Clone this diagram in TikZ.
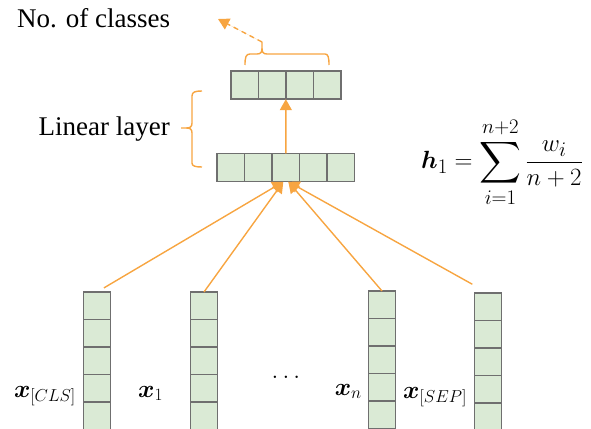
\documentclass[tikz,border=0pt]{standalone}
\usepackage{amsmath,amssymb,bm}
\usepackage{fontspec}
\setmainfont{Liberation Serif}
\usepackage{tikz}
\usetikzlibrary{arrows.meta, positioning, calc, fit}
\definecolor{tokorange}{HTML}{F7A541}
\definecolor{cellgreen}{HTML}{DAEAD5}
\definecolor{cellgray}{HTML}{6F6F6F}

\begin{document}
\begin{tikzpicture}[x=1pt, y=-1pt,
    cell/.style={rectangle, draw=cellgray, fill=cellgreen, line width=1.3pt, inner sep=0pt, outer sep=0pt, minimum width=27.5pt, minimum height=27.5pt},
    arr/.style={-{Triangle[length=11pt, width=12pt]}, line width=1.4pt, draw=tokorange, fill=tokorange},
    brc/.style={line width=1.4pt, draw=tokorange},
    every node/.style={font=\fontsize{27}{32}\selectfont, inner sep=0pt}
]
\useasboundingbox (0,0) rectangle (591,428);

% Token columns
\foreach \nm/\cx/\cy in {cls/97/305.75, one/204/305.75, xn/382/304.75, sep/488/306.75} {
  \node[cell] (\nm1) at (\cx,\cy) {};
  \foreach \j [count=\k from 2] in {1,...,4}
    \node[cell, below=0pt of \nm\j] (\nm\k) {};
}

% Hidden vector
\node[cell, minimum height=28.5pt] (h1) at (230.8,167.5) {};
\foreach \j [count=\k from 2] in {1,...,4}
  \node[cell, minimum height=28.5pt, right=0pt of h\j] (h\k) {};

% Output vector
\node[cell, minimum height=28pt] (o1) at (244.6,85) {};
\foreach \j [count=\k from 2] in {1,2,3}
  \node[cell, minimum height=28pt, right=0pt of o\j] (o\k) {};
\node[fit=(o1)(o4)] (outvec) {};

% Pooling
\draw[arr, shorten <=8pt] (cls1.north) -- ([xshift=-2.5pt]h3.south);
\draw[arr] (one1.north) -- ([xshift=-2.5pt]h3.south);
\draw[arr] (xn1.north) -- ([xshift=2.5pt]h3.south);
\draw[arr, shorten <=18pt] (sep1.north) -- ([xshift=2.5pt]h3.south);
\draw[arr] (h3.north) -- (outvec.south);

% Braces
\draw[brc] (245,65) .. controls (245,57) and (246,54) .. (250,54) -- (257,54)
  .. controls (261,54) and (262,52) .. (262,48) -- (262,42) -- (262,48)
  .. controls (262,52) and (263,54) .. (267,54) -- (325,54)
  .. controls (328,54) and (329,57) .. (329,65);
\coordinate (ctip) at (262,42);
\coordinate (nclass) at (218,19);
\draw[arr, dash pattern=on 5pt off 4pt] (ctip) -- (nclass);
\draw[brc] (202,91) .. controls (195,91) and (192,92) .. (192,96) -- (192,123)
  .. controls (192,127) and (190,128) .. (186,128) -- (181,128) -- (186,128)
  .. controls (190,128) and (192,129) .. (192,133) -- (192,163)
  .. controls (192,166) and (195,167) .. (202,167);

% Labels
\node[anchor=base west] (lclass) at (17,28) {No. of classes};
\node[anchor=east] (llin) at (170,129) {Linear layer};
\node[font=\fontsize{29}{34}\selectfont] (hsum) at (502,162) {$\displaystyle \bm{h}_1 = \sum_{i=1}^{n+2}\frac{w_i}{n+2}$};
\node (dots) at (288,377) {$\dots$};
\node[anchor=base east] (lcls) at (76,397) {$\bm{x}_{[CLS]}$};
\node[anchor=base west] (lone) at (138,397) {$\bm{x}_1$};
\node[anchor=base east] (lxn) at (362,395) {$\bm{x}_n$};
\node[anchor=base west] (lsep) at (403,398) {$\bm{x}_{[SEP]}$};
\end{tikzpicture}
\end{document}
